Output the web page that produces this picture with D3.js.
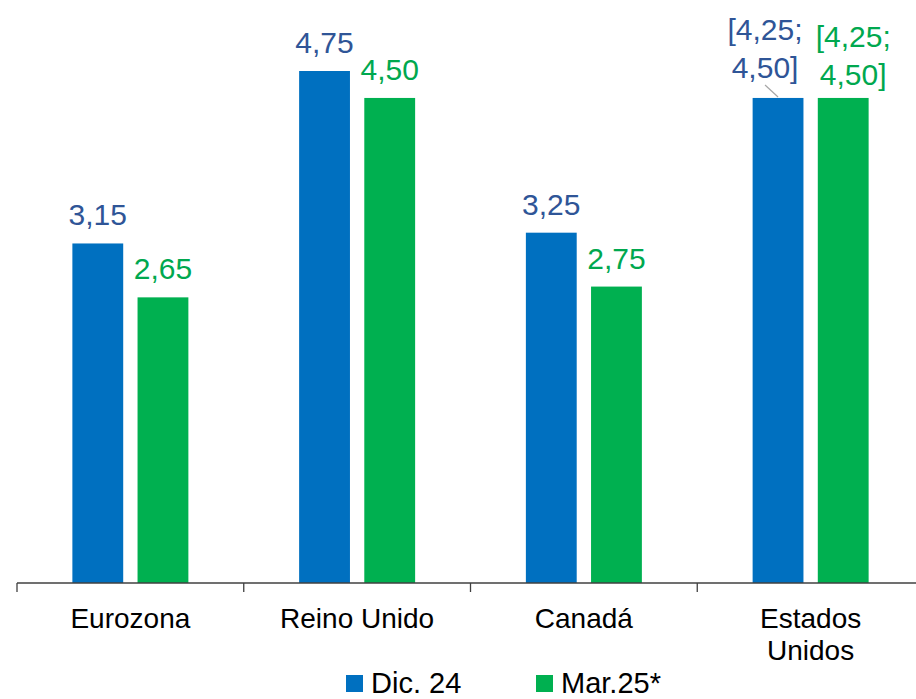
<!DOCTYPE html>
<html>
<head>
<meta charset="utf-8">
<script src="https://cdn.jsdelivr.net/npm/d3@7"></script>
<style>
  body { margin: 0; background: #fff; }
  text { font-family: "Liberation Sans", Arial, sans-serif; }
</style>
</head>
<body>
<div id="chart"></div>
<script>
const categories = [["Eurozona"], ["Reino Unido"], ["Canadá"], ["Estados", "Unidos"]];
const series = ["Dic. 24", "Mar.25*"];
const dic24 = [3.15, 4.75, 3.25, 4.50];
const mar25 = [2.65, 4.50, 2.75, 4.50];
const dic24Labels = [["3,15"], ["4,75"], ["3,25"], ["[4,25;", "4,50]"]];
const mar25Labels = [["2,65"], ["4,50"], ["2,75"], ["[4,25;", "4,50]"]];

const width = 916,
    height = 699,
    baseline = 583,
    colors = ["#0070C0", "#00B050"],
    labelColors = ["#2F5597", "#00A84F"];

const svg = d3.select("#chart")
    .append("svg")
    .attr("width", width)
    .attr("height", height);

const x = d3.scaleBand()
    .domain(d3.range(categories.length))
    .range([17, 924]);

const xSub = d3.scaleBand()
    .domain([0, 1])
    .range([x.bandwidth() / 2 - 58, x.bandwidth() / 2 + 58])
    .paddingInner(0.22);

const y = d3.scaleLinear()
    .domain([0, 4.75])
    .range([baseline, 71]);

const rows = d3.range(categories.length).map(i => ({
    i: i,
    values: [dic24[i], mar25[i]],
    labels: [dic24Labels[i], mar25Labels[i]]
}));

// bars
const group = svg.selectAll(".cat")
    .data(rows)
    .join("g")
    .attr("class", "cat")
    .attr("transform", d => `translate(${x(d.i)},0)`);

group.selectAll("rect")
    .data(d => d.values.map((v, s) => ({v, s})))
    .join("rect")
    .attr("x", d => xSub(d.s))
    .attr("width", xSub.bandwidth())
    .attr("y", d => y(d.v))
    .attr("height", d => y(0) - y(d.v))
    .attr("fill", d => colors[d.s]);

// value labels
group.each(function(d) {
    const g = d3.select(this);
    d.labels.forEach((lines, s) => {
        const cx = xSub(s) + xSub.bandwidth() / 2;
        const top = y(d.values[s]);
        if (lines.length === 1) {
            g.append("text")
                .attr("x", cx)
                .attr("y", top - 18)
                .attr("text-anchor", "middle")
                .attr("font-size", 30)
                .attr("fill", labelColors[s])
                .text(lines[0]);
        } else {
            // two-line range labels above the US bars
            const dx = s === 0 ? -13 : 10;
            const base = s === 0 ? top - 58 : top - 51;
            g.append("text")
                .attr("x", cx + dx)
                .attr("y", base)
                .attr("text-anchor", "middle")
                .attr("font-size", 30)
                .attr("fill", labelColors[s])
                .selectAll("tspan")
                .data(lines)
                .join("tspan")
                .attr("x", cx + dx)
                .attr("dy", (l, k) => k === 0 ? 0 : 38)
                .text(l => l);
            if (s === 0) {
                g.append("line")
                    .attr("x1", cx - 13)
                    .attr("y1", top - 13)
                    .attr("x2", cx)
                    .attr("y2", top - 1)
                    .attr("stroke", "#A6A6A6")
                    .attr("stroke-width", 1.2);
            }
        }
    });
});

// axis
const axis = svg.append("g")
    .attr("transform", `translate(0,${baseline})`);

axis.append("line")
    .attr("x1", 17)
    .attr("x2", width)
    .attr("stroke", "#404040")
    .attr("stroke-width", 1.3);

axis.selectAll(".tick")
    .data(d3.range(categories.length + 1))
    .join("line")
    .attr("class", "tick")
    .attr("x1", i => i < categories.length ? x(i) : x(i - 1) + x.bandwidth())
    .attr("x2", i => i < categories.length ? x(i) : x(i - 1) + x.bandwidth())
    .attr("y1", 0)
    .attr("y2", 9)
    .attr("stroke", "#404040")
    .attr("stroke-width", 1.3);

axis.selectAll(".catlabel")
    .data(categories)
    .join("text")
    .attr("class", "catlabel")
    .attr("text-anchor", "middle")
    .attr("font-size", 28)
    .attr("fill", "#000")
    .selectAll("tspan")
    .data((d, i) => d.map(l => ({l, i})))
    .join("tspan")
    .attr("x", d => x(d.i) + x.bandwidth() / 2)
    .attr("y", (d, k) => 45 + k * 32)
    .text(d => d.l);

// legend
const legendX = [346, 536];
const legend = svg.selectAll(".legend")
    .data(series)
    .join("g")
    .attr("class", "legend")
    .attr("transform", (d, i) => `translate(${legendX[i]},675)`);

legend.append("rect")
    .attr("width", 17)
    .attr("height", 17)
    .attr("fill", (d, i) => colors[i]);

legend.append("text")
    .attr("x", 25)
    .attr("y", 18)
    .attr("font-size", 29)
    .attr("fill", "#000")
    .text(d => d);
</script>
</body>
</html>
